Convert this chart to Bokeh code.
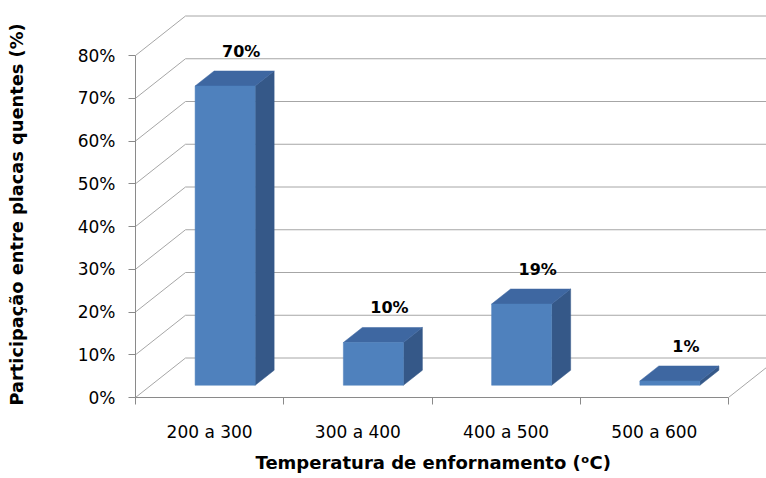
from bokeh.plotting import figure
from bokeh.models import FixedTicker, ColumnDataSource, Title
from bokeh.embed import file_html
from bokeh.resources import INLINE
from bokeh.core.properties import value

# ---- data ----
categories = ["200 a 300", "300 a 400", "400 a 500", "500 a 600"]
values = [70, 10, 19, 1]
value_labels = ["70%", "10%", "19%", "1%"]
y_ticks = [0, 10, 20, 30, 40, 50, 60, 70, 80]
y_tick_labels = ["0%", "10%", "20%", "30%", "40%", "50%", "60%", "70%", "80%"]
x_title = "Temperatura de enfornamento (\u1d52C)"
y_title = "Participação entre placas quentes (%)"

# ---- layout / style ----
W, H = 766, 478
LEFT, TOP, BOTTOM = 135, 10, 397
PX_X, PX_Y = 148.25, 4.275          # pixels per category unit / per percent
DX, DY = 50 / PX_X, 39.5 / PX_Y     # 3-D depth offset in data units
Z0, Z1 = 0.31, 0.69                 # bar front / back depth fraction
BW = 0.405                          # bar width (category units)
FONT = "DejaVu Sans"
GRID = "#A6A6A6"
AXIS = "#8A8A8A"
FRONT, TOPC, SIDE = "#4F81BD", "#3E67A1", "#355888"

x_end = (W - LEFT) / PX_X
y_end = (BOTTOM - TOP) / PX_Y
ymax = y_ticks[-1]
ncat = len(categories)

p = figure(width=W, height=H, x_range=(0, x_end), y_range=(0, y_end),
           output_backend="svg", toolbar_location=None,
           min_border_left=LEFT, min_border_right=0,
           min_border_top=TOP, min_border_bottom=H - BOTTOM)
p.outline_line_color = None
p.xgrid.visible = False
p.ygrid.visible = False

# ---- walls: left-wall diagonals and back-wall horizontals ----
diag_x0 = [0] * len(y_ticks)
diag_x1 = [DX] * len(y_ticks)
diag_y0 = list(y_ticks)
diag_y1 = [t + DY for t in y_ticks]
p.segment(diag_x0, diag_y0, diag_x1, diag_y1, line_color=GRID, line_width=1)
p.segment(diag_x1, diag_y1, [x_end + 1] * len(y_ticks), diag_y1,
          line_color=GRID, line_width=1)
# right floor edge
p.segment([ncat], [0], [ncat + DX], [DY], line_color=GRID, line_width=1)

# ---- 3-D bars ----
dz = Z1 - Z0
fl, fr, fb, ft = [], [], [], []
top_xs, top_ys, side_xs, side_ys = [], [], [], []
for i, v in enumerate(values):
    L = i + 0.5 - BW / 2 + Z0 * DX
    R = L + BW
    B = Z0 * DY
    T = v + B
    fl.append(L); fr.append(R); fb.append(B); ft.append(T)
    top_xs.append([L, R, R + dz * DX, L + dz * DX])
    top_ys.append([T, T, T + dz * DY, T + dz * DY])
    side_xs.append([R, R, R + dz * DX, R + dz * DX])
    side_ys.append([B, T, T + dz * DY, B + dz * DY])

p.patches(side_xs, side_ys, fill_color=SIDE, line_color=SIDE, line_width=0.5)
p.patches(top_xs, top_ys, fill_color=TOPC, line_color=TOPC, line_width=0.5)
p.quad(left=fl, right=fr, bottom=fb, top=ft, fill_color=FRONT,
       line_color=FRONT, line_width=0.5)

# ---- value labels ----
lab_src = ColumnDataSource(dict(
    x=[i + 0.5 + Z1 * DX - 0.02 for i in range(ncat)],
    y=[v + Z1 * DY for v in values],
    t=value_labels))
p.text(x="x", y="y", text="t", source=lab_src, text_align="center",
       text_baseline="bottom", y_offset=-10,
       text_font=value(FONT), text_font_style="bold",
       text_font_size="16px", text_color="black")

# ---- axes ----
ya = p.yaxis[0]
ya.ticker = FixedTicker(ticks=y_ticks)
ya.major_label_overrides = {t: s for t, s in zip(y_ticks, y_tick_labels)}
ya.bounds = (0, ymax)
ya.axis_line_color = AXIS
ya.major_tick_line_color = AXIS
ya.major_tick_out = 7
ya.major_tick_in = 0
ya.minor_tick_line_color = None
ya.major_label_standoff = 13
ya.major_label_text_font = FONT
ya.major_label_text_font_size = "17px"
ya.major_label_text_color = "black"
# blank spacer label: pushes the y title (below) further out to the left
ya.axis_label = "\u00a0"
ya.axis_label_standoff = 22
ya.axis_label_text_font = FONT
ya.axis_label_text_font_size = "17px"

xa = p.xaxis[0]
xa.ticker = FixedTicker(ticks=[i + 0.5 for i in range(ncat)],
                        minor_ticks=list(range(ncat + 1)))
xa.major_label_overrides = {i + 0.5: c for i, c in enumerate(categories)}
xa.bounds = (0, ncat)
xa.axis_line_color = AXIS
xa.major_tick_line_color = None
xa.major_tick_out = 0
xa.major_tick_in = 0
xa.minor_tick_line_color = AXIS
xa.minor_tick_out = 7
xa.minor_tick_in = 0
xa.major_label_standoff = 17
xa.major_label_text_font = FONT
xa.major_label_text_font_size = "17px"
xa.major_label_text_color = "black"

p.add_layout(Title(text=x_title, align="left", offset=120, standoff=10,
                   text_font=FONT, text_font_style="bold",
                   text_font_size="18px", text_color="black"), "below")
p.add_layout(Title(text=y_title, align="left", offset=-8, standoff=2,
                   vertical_align="top",
                   text_font=FONT, text_font_style="bold",
                   text_font_size="17.8px", text_color="black"), "left")

open("out.html", "w").write(file_html(p, INLINE))
